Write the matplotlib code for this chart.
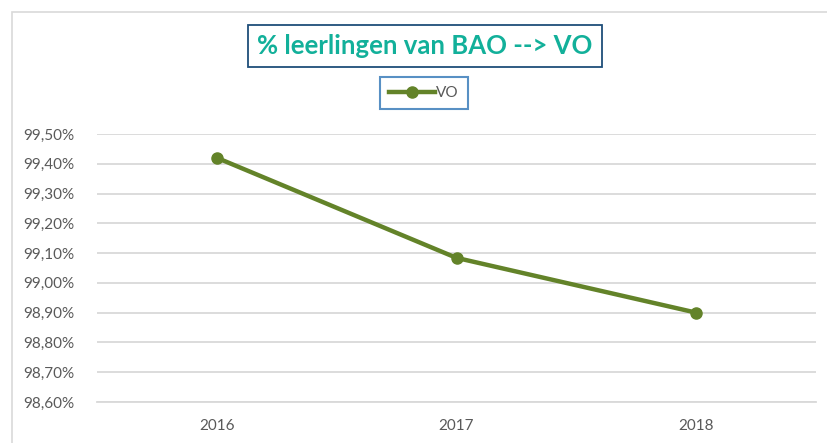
import matplotlib.pyplot as plt
import matplotlib.ticker as mticker
from matplotlib.patches import Rectangle
from matplotlib.lines import Line2D

years: list[str] = ["2016", "2017", "2018"]
vo_pct: list[float] = [99.42, 99.084, 98.90]

plt.rcParams["font.family"] = ["Lato", "DejaVu Sans"]

fig = plt.figure(figsize=(8.27, 4.43), dpi=100)
ax = fig.add_axes([0.1173, 0.0926, 0.8694, 0.6049])

# chart frame (light grey, left and top only visible)
fig.patches.append(Rectangle((12 / 827, -0.1), 2.0, (443 - 12) / 443 + 0.1,
                             transform=fig.transFigure, fill=False,
                             edgecolor="#D9D9D9", linewidth=1.2, zorder=0))

x = range(len(years))
ax.plot(x, vo_pct, color="#638329", linewidth=3.2, marker="o", markersize=8,
        solid_capstyle="round", zorder=3)

ax.set_xlim(-0.5, len(years) - 0.5)
ax.set_ylim(98.6, 99.5)
ax.set_yticks([98.6 + 0.1 * i for i in range(10)])
ax.yaxis.set_major_formatter(mticker.FuncFormatter(lambda v, p: f"{v:.2f}%".replace(".", ",")))
ax.set_xticks(list(x))
ax.set_xticklabels(years)
ax.grid(axis="y", color="#D9D9D9", linewidth=1.3)
ax.set_axisbelow(True)
for s in ["top", "right", "left"]:
    ax.spines[s].set_visible(False)
ax.spines["bottom"].set_color("#D9D9D9")
ax.spines["bottom"].set_linewidth(1.3)
ax.tick_params(length=0, labelsize=11, colors="#595959")
ax.tick_params(axis="y", pad=16)
ax.tick_params(axis="x", pad=12)

fig.text(425 / 827, 1 - 46 / 443, "% leerlingen van BAO --> VO", ha="center", va="center",
         fontsize=18.5, fontweight="bold", color="#12B09A",
         bbox=dict(boxstyle="square,pad=0.35", facecolor="white", edgecolor="#1F4E79", linewidth=1.3))

handle = Line2D([], [], color="#638329", linewidth=3.2, marker="o", markersize=8)
leg = fig.legend([handle], ["VO"], loc="center", bbox_to_anchor=(424 / 827, 1 - 93 / 443),
                 frameon=True, fancybox=False, fontsize=11, handlelength=3.0,
                 handletextpad=0.1, borderpad=0.6, borderaxespad=0, labelcolor="#595959")
leg.get_frame().set_edgecolor("#2E75B6")
leg.get_frame().set_linewidth(1.5)

fig.savefig("out.png", dpi=100)
